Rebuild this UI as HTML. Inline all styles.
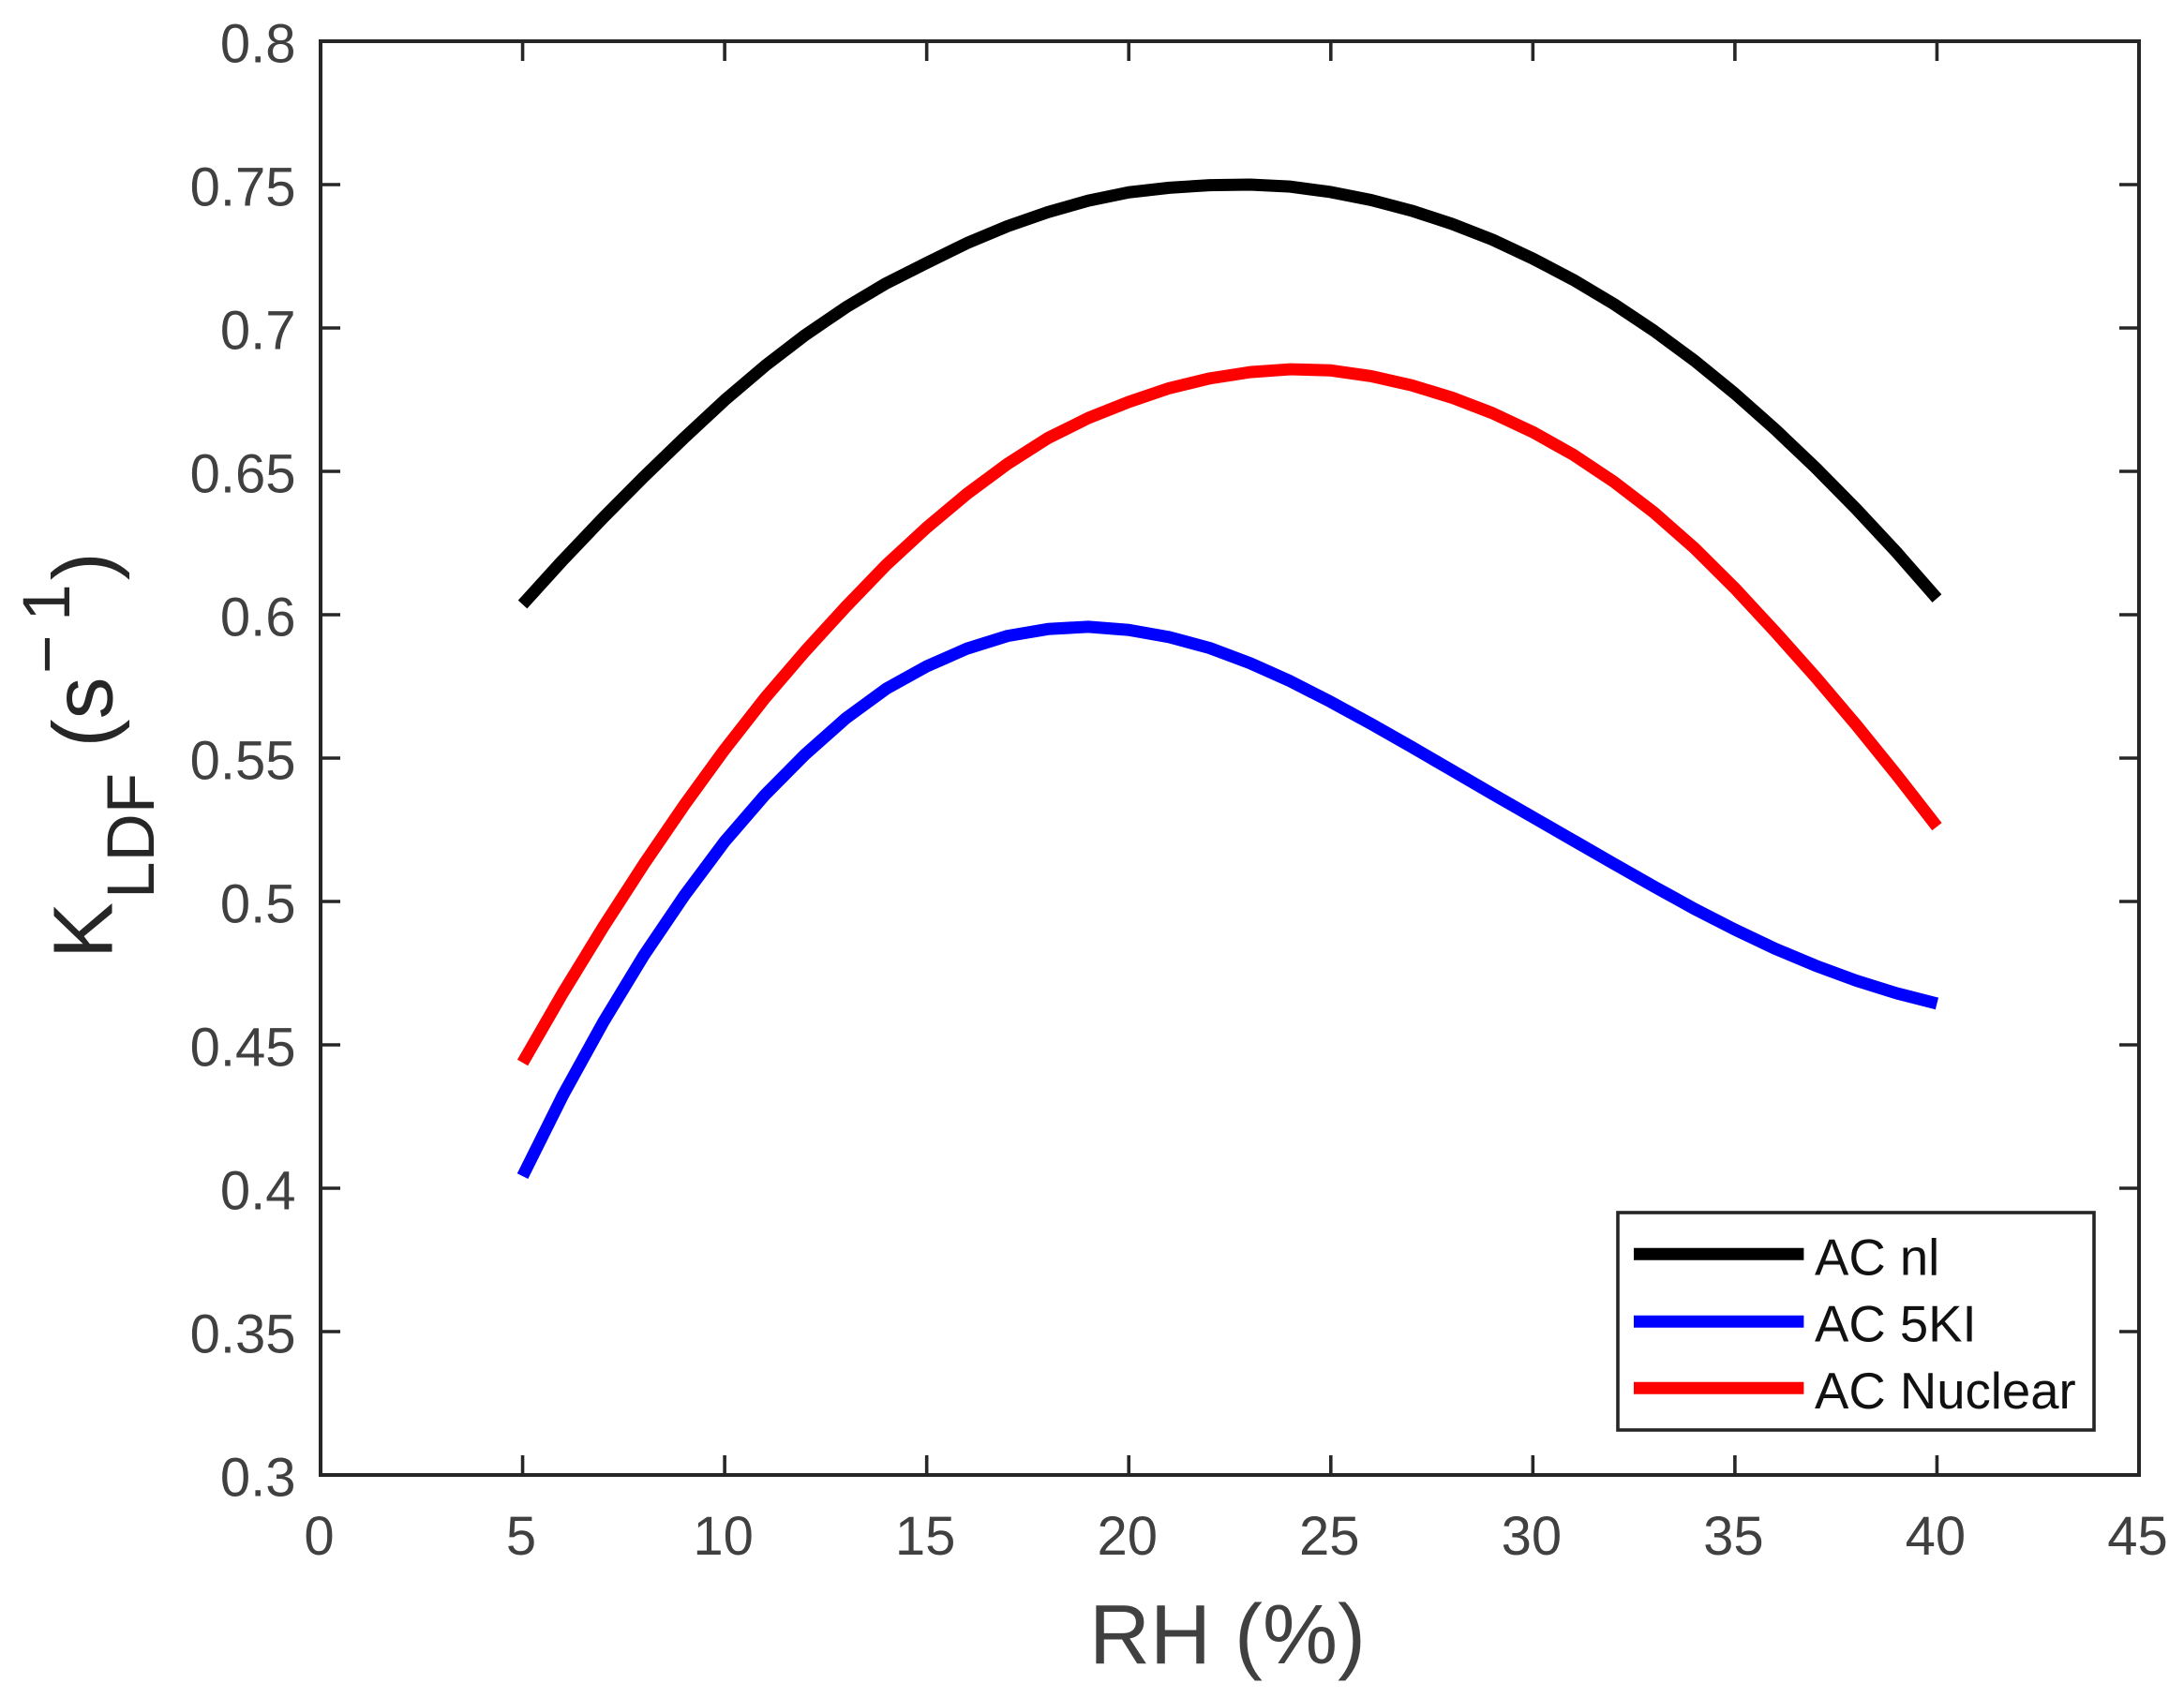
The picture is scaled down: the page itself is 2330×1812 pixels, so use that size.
<!DOCTYPE html>
<html lang="en">
<head>
<meta charset="utf-8">
<title>KLDF vs RH</title>
<style>
  html, body { margin: 0; padding: 0; background: #fff; width: 2330px; height: 1812px; overflow: hidden; }
  svg { display: block; }
  text { font-family: "Liberation Sans", Arial, sans-serif; }
</style>
</head>
<body>
<svg id="chart" xmlns="http://www.w3.org/2000/svg" width="2330" height="1812" viewBox="0 0 2330 1812">
  <rect x="0" y="0" width="2330" height="1812" fill="#fff"/>
  <g id="series"></g>
  <g id="axes"></g>

  <text x="1162" y="1775" font-size="90" fill="#404040">RH (%)</text>

  <g fill="#262626">
    <text transform="translate(119.3,1023) rotate(-90)" font-size="90">K</text>
    <text transform="translate(164,959) rotate(-90)" font-size="71">LDF</text>
    <text transform="translate(119.3,797.5) rotate(-90)" font-size="90">(s</text>
    <text transform="translate(74,719) rotate(-90)" font-size="71">&#8722;</text>
    <text transform="translate(74,662.7) rotate(-90)" font-size="71">1</text>
    <text transform="translate(119.3,619.3) rotate(-90)" font-size="90">)</text>
  </g>

  <g id="legend">
    <rect x="1726" y="1294" width="508" height="232" fill="#fff" stroke="#262626" stroke-width="3.6"/>
    <line x1="1743" y1="1338.3" x2="1924.4" y2="1338.3" stroke="#000000" stroke-width="13"/>
    <text x="1936" y="1360.7" font-size="54.5" fill="#111">AC nl</text>
    <line x1="1743" y1="1410.3" x2="1924.4" y2="1410.3" stroke="#0000ff" stroke-width="13"/>
    <text x="1936" y="1431.7" font-size="54.5" fill="#111">AC 5KI</text>
    <line x1="1743" y1="1481.3" x2="1924.4" y2="1481.3" stroke="#ff0000" stroke-width="13"/>
    <text x="1936" y="1503" font-size="54.5" fill="#111">AC Nuclear</text>
  </g>
</svg>
<script>
// Chart data
const rhValues = [5,6,7,8,9,10,11,12,13,14,15,16,17,18,19,20,21,22,23,24,25,26,27,28,29,30,31,32,33,34,35,36,37,38,39,40];
const acNlValues = [0.6036,0.6191,0.6339,0.6481,0.6617,0.6748,0.6868,0.6976,0.7072,0.7156,0.7227,0.7296,0.7355,0.7404,0.7444,0.7473,0.7489,0.7498,0.7500,0.7493,0.7474,0.7446,0.7409,0.7363,0.7308,0.7242,0.7168,0.7084,0.6990,0.6886,0.6771,0.6646,0.6512,0.6369,0.6218,0.6057];
const ac5kiValues = [0.4042,0.4325,0.4580,0.4812,0.5020,0.5209,0.5372,0.5514,0.5639,0.5742,0.5820,0.5882,0.5926,0.5950,0.5958,0.5947,0.5922,0.5884,0.5831,0.5768,0.5696,0.5619,0.5539,0.5457,0.5375,0.5294,0.5213,0.5132,0.5052,0.4974,0.4902,0.4835,0.4776,0.4724,0.4680,0.4644];
const acNuclearValues = [0.4438,0.4682,0.4912,0.5130,0.5336,0.5530,0.5710,0.5874,0.6028,0.6174,0.6304,0.6422,0.6526,0.6616,0.6686,0.6742,0.6790,0.6824,0.6846,0.6856,0.6852,0.6832,0.6800,0.6757,0.6703,0.6637,0.6558,0.6464,0.6356,0.6232,0.6092,0.5940,0.5782,0.5616,0.5442,0.5261];
const xTickValues = [0,5,10,15,20,25,30,35,40,45];
const xTickLabels = ['0','5','10','15','20','25','30','35','40','45'];
const yTickValues = [0.3,0.35,0.4,0.45,0.5,0.55,0.6,0.65,0.7,0.75,0.8];
const yTickLabels = ['0.3','0.35','0.4','0.45','0.5','0.55','0.6','0.65','0.7','0.75','0.8'];

const NS = 'http://www.w3.org/2000/svg';
const plot = { left: 342, right: 2282, top: 44, bottom: 1574 };
const xDomain = [0, 45];
const yDomain = [0.3, 0.8];
const axisColor = '#262626';
const labelColor = '#404040';

function xScale(v) {
  return plot.left + (v - xDomain[0]) / (xDomain[1] - xDomain[0]) * (plot.right - plot.left);
}
function yScale(v) {
  return plot.bottom - (v - yDomain[0]) / (yDomain[1] - yDomain[0]) * (plot.bottom - plot.top);
}
function make(tag, attrs) {
  const el = document.createElementNS(NS, tag);
  for (const k in attrs) el.setAttribute(k, attrs[k]);
  return el;
}

const seriesGroup = document.getElementById('series');
const axesGroup = document.getElementById('axes');

function drawSeries(values, color, name) {
  const pts = values.map(function (v, i) {
    return xScale(rhValues[i]).toFixed(2) + ',' + yScale(v).toFixed(2);
  }).join(' ');
  const line = make('polyline', { points: pts, fill: 'none', stroke: color, 'stroke-width': 13, 'stroke-linejoin': 'round', 'stroke-linecap': 'butt' });
  
  
  seriesGroup.appendChild(line);
}
drawSeries(acNlValues, '#000000', 'series-ac-nl');
drawSeries(ac5kiValues, '#0000ff', 'series-ac-5ki');
drawSeries(acNuclearValues, '#ff0000', 'series-ac-nuclear');

const frame = make('rect', { x: plot.left, y: plot.top, width: plot.right - plot.left, height: plot.bottom - plot.top, fill: 'none', stroke: axisColor, 'stroke-width': 4 });


axesGroup.appendChild(frame);

const tickLen = 21;
xTickValues.forEach(function (v, i) {
  const x = xScale(v);
  const bottomTick = make('line', { x1: x, x2: x, y1: plot.bottom, y2: plot.bottom - tickLen, stroke: axisColor, 'stroke-width': 3.6 });
  
  
  axesGroup.appendChild(bottomTick);
  const topTick = make('line', { x1: x, x2: x, y1: plot.top, y2: plot.top + tickLen, stroke: axisColor, 'stroke-width': 3.6 });
  
  
  axesGroup.appendChild(topTick);
  const label = make('text', { x: x - 1.5, y: 1659, 'font-size': 58, fill: labelColor, 'text-anchor': 'middle' });
  
  
  label.textContent = xTickLabels[i];
  axesGroup.appendChild(label);
});
yTickValues.forEach(function (v, i) {
  const y = yScale(v);
  const leftTick = make('line', { x1: plot.left, x2: plot.left + tickLen, y1: y, y2: y, stroke: axisColor, 'stroke-width': 3.6 });
  
  
  axesGroup.appendChild(leftTick);
  const rightTick = make('line', { x1: plot.right, x2: plot.right - tickLen, y1: y, y2: y, stroke: axisColor, 'stroke-width': 3.6 });
  
  
  axesGroup.appendChild(rightTick);
  const label = make('text', { x: 315.5, y: y + 22.5, 'font-size': 58, fill: labelColor, 'text-anchor': 'end' });
  
  
  label.textContent = yTickLabels[i];
  axesGroup.appendChild(label);
});
</script>
</body>
</html>
